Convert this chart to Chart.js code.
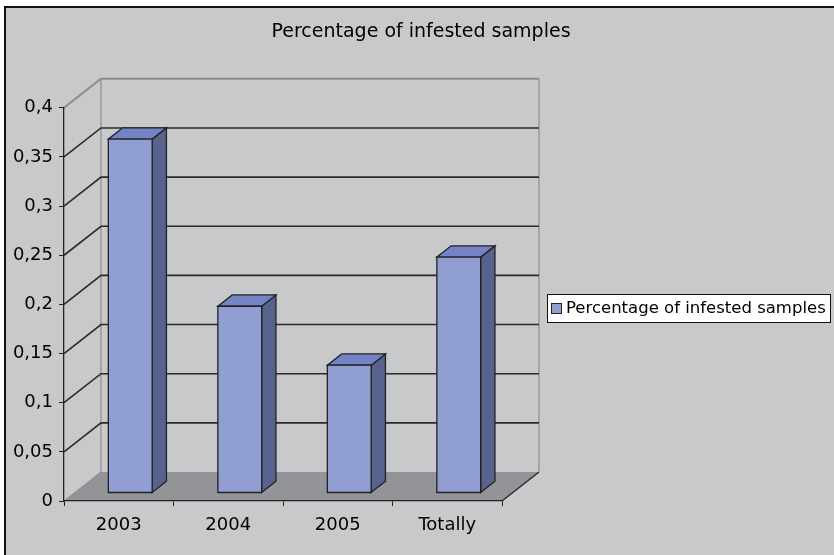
<!DOCTYPE html>
<html>
<head>
<meta charset="utf-8">
<script src="https://cdn.jsdelivr.net/npm/chart.js@4.4.0/dist/chart.umd.min.js"></script>
<style>
  html, body { margin: 0; padding: 0; background: #fff; overflow: hidden; }
  canvas { display: block; }
</style>
</head>
<body>
<canvas id="myChart" width="834" height="555"></canvas>
<script>
const categories = ['2003', '2004', '2005', 'Totally'];
const infested = [0.36, 0.19, 0.13, 0.24];
const seriesName = 'Percentage of infested samples';
const yMin = 0;
const yMax = 0.4;
const yStep = 0.05;

// look of the old excel 3d column chart
const bgGray = '#c8c9cb';
const floorGray = '#939498';
const edgeGray = '#8c8c8c';
const gridDark = '#2b2b2b';
const barFront = '#909ed1';
const barTop = '#7383c4';
const barSide = '#57628f';
const fontName = "'DejaVu Sans', sans-serif";

const depth = { x: 37, y: -29 };      // wall / floor depth
const barShift = { x: 11.5, y: -8 };  // bar front face sits a bit into the floor
const barSide3d = { x: 14.3, y: -11.3 };

const fmt = v => String(Math.round(v * 100) / 100).replace('.', ',');

const walls3d = {
  id: 'walls3d',
  beforeDraw(chart) {
    const c = chart.ctx;
    const a = chart.chartArea;
    const ys = chart.scales.y;
    c.save();
    c.fillStyle = '#fff';
    c.fillRect(0, 0, chart.width, chart.height);
    c.fillStyle = bgGray;
    c.fillRect(5, 7, chart.width, chart.height);
    c.strokeStyle = '#111';
    c.lineWidth = 2;
    c.beginPath();
    c.moveTo(5, chart.height); c.lineTo(5, 7); c.lineTo(chart.width, 7);
    c.stroke();

    // floor
    c.fillStyle = floorGray;
    c.beginPath();
    c.moveTo(a.left, a.bottom);
    c.lineTo(a.right, a.bottom);
    c.lineTo(a.right + depth.x, a.bottom + depth.y);
    c.lineTo(a.left + depth.x, a.bottom + depth.y);
    c.closePath();
    c.fill();

    // back wall corners
    c.strokeStyle = '#9a9a9a';
    c.lineWidth = 1.5;
    c.beginPath();
    c.moveTo(a.left + depth.x, a.top + depth.y);
    c.lineTo(a.left + depth.x, a.bottom + depth.y);
    c.moveTo(a.right + depth.x, a.top + depth.y);
    c.lineTo(a.right + depth.x, a.bottom + depth.y);
    c.stroke();

    // gridlines on side + back wall
    ys.ticks.forEach(t => {
      if (t.value <= yMin) return;
      const y = ys.getPixelForValue(t.value);
      const top = t.value >= yMax - 1e-9;
      c.strokeStyle = top ? edgeGray : gridDark;
      c.lineWidth = top ? 2 : 1.6;
      c.beginPath();
      c.moveTo(a.left, y);
      c.lineTo(a.left + depth.x, y + depth.y);
      c.lineTo(a.right + depth.x, y + depth.y);
      c.stroke();
    });

    // floor edges
    c.strokeStyle = '#888';
    c.lineWidth = 1;
    c.beginPath();
    c.moveTo(a.left, a.bottom);
    c.lineTo(a.left + depth.x, a.bottom + depth.y);
    c.stroke();
    c.strokeStyle = gridDark;
    c.lineWidth = 1.5;
    c.beginPath();
    c.moveTo(a.right, a.bottom);
    c.lineTo(a.right + depth.x, a.bottom + depth.y);
    c.stroke();
    c.restore();
  },
  afterDatasetsDraw(chart) {
    const c = chart.ctx;
    const meta = chart.getDatasetMeta(0);
    c.save();
    c.lineWidth = 1.3;
    c.strokeStyle = '#222';
    meta.data.forEach(bar => {
      const x0 = bar.x - bar.width / 2 + barShift.x;
      const x1 = bar.x + bar.width / 2 + barShift.x;
      const yt = bar.y + barShift.y;
      const yb = bar.base + barShift.y;
      const dx = barSide3d.x, dy = barSide3d.y;

      // side
      c.fillStyle = barSide;
      c.beginPath();
      c.moveTo(x1, yt); c.lineTo(x1 + dx, yt + dy); c.lineTo(x1 + dx, yb + dy); c.lineTo(x1, yb);
      c.closePath(); c.fill(); c.stroke();
      // top
      c.fillStyle = barTop;
      c.beginPath();
      c.moveTo(x0, yt); c.lineTo(x0 + dx, yt + dy); c.lineTo(x1 + dx, yt + dy); c.lineTo(x1, yt);
      c.closePath(); c.fill(); c.stroke();
      // front
      c.fillStyle = barFront;
      c.beginPath();
      c.rect(x0, yt, x1 - x0, yb - yt);
      c.fill(); c.stroke();
    });
    c.restore();
  },
  afterDraw(chart) {
    // legend box like excel's
    const c = chart.ctx;
    c.save();
    c.fillStyle = '#fff';
    c.fillRect(547, 294, 284, 29);
    c.strokeStyle = '#111';
    c.lineWidth = 1;
    c.strokeRect(547.5, 294.5, 283, 28);
    c.fillStyle = barFront;
    c.fillRect(551, 303, 11, 11);
    c.strokeStyle = '#222';
    c.strokeRect(551.5, 303.5, 10, 10);
    c.fillStyle = '#000';
    c.font = '16.5px ' + fontName;
    c.textBaseline = 'middle';
    c.fillText(seriesName, 566, 309);
    // the frame is cut off on the right in the original
    c.fillStyle = bgGray;
    c.fillRect(chart.width - 3, 8, 3, chart.height);
    c.restore();
  }
};

const ctx = document.getElementById('myChart').getContext('2d');
new Chart(ctx, {
  type: 'bar',
  data: {
    labels: categories,
    datasets: [{
      label: seriesName,
      data: infested,
      backgroundColor: 'rgba(0,0,0,0)',
      borderWidth: 0,
      categoryPercentage: 1,
      barPercentage: 0.4
    }]
  },
  options: {
    responsive: false,
    animation: false,
    layout: { padding: { left: 8, top: 21, right: 0, bottom: 0 } },
    plugins: {
      legend: { display: false },
      tooltip: { enabled: false },
      title: {
        display: true,
        text: seriesName,
        color: '#000',
        font: { family: fontName, size: 19, weight: 'normal' },
        padding: { top: 0, bottom: 64 }
      }
    },
    scales: {
      x: {
        grid: { drawOnChartArea: false, color: '#222', tickLength: 5, offset: true },
        border: { color: '#222', width: 1.3 },
        ticks: { color: '#000', font: { family: fontName, size: 18 }, padding: 9 },
        afterFit(s) { s.height = 54; }
      },
      y: {
        min: yMin,
        max: yMax,
        grid: { drawOnChartArea: false, color: '#222', tickLength: 5 },
        border: { color: '#222', width: 1.3 },
        ticks: {
          stepSize: yStep,
          color: '#000',
          font: { family: fontName, size: 18 },
          padding: 6,
          callback: v => fmt(v)
        },
        afterFit(s) { s.width = 56; }
      },
      yR: {
        position: 'right',
        grid: { display: false, drawTicks: false },
        border: { display: false },
        ticks: { display: false },
        afterFit(s) { s.width = 332; }
      }
    }
  },
  plugins: [walls3d]
});
</script>
</body>
</html>
